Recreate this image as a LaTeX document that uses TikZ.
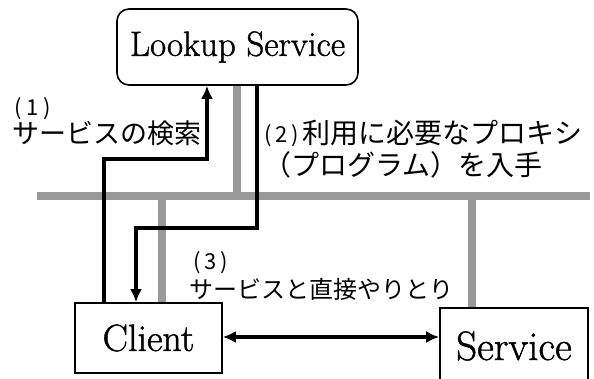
\documentclass[tikz,border=0pt]{standalone}
\usepackage{fontspec}
\newfontfamily\jp{Noto Sans CJK JP}
\newfontfamily\sch{Latin Modern Roman}[FakeBold=1.2]
\usetikzlibrary{arrows.meta}
\begin{document}
\begin{tikzpicture}[x=1pt,y=-1pt,
  box/.style={draw, line width=1.6pt, fill=white, inner sep=0pt},
  net/.style={draw=black!40, line width=7.5pt},
  arrowtip/.style={-{Latex[length=13pt,width=12pt]}},
  blk/.style={line width=3.6pt, arrowtip},
  jl/.style={inner sep=0pt, anchor=west},
  num/.style={font=\jp\fontsize{22}{22}\selectfont, inner sep=0pt, anchor=west}]
\useasboundingbox (0,0) rectangle (594,379);
% boxes
\node[box, rounded corners=12pt, minimum width=241pt, minimum height=76pt,
      font=\sch\fontsize{35}{35}\selectfont] (lookup) at (237.5,47) {Lookup Service};
\node[box, minimum width=147pt, minimum height=70pt,
      font=\sch\fontsize{38}{38}\selectfont] (client) at (148.5,338) {Client};
\node[box, minimum width=148pt, minimum height=76pt,
      font=\sch\fontsize{41}{41}\selectfont] (service) at (514,346) {Service};
% network
\coordinate (netL) at (37,196);
\coordinate (netR) at (590,196);
\coordinate (g1) at (237,196);
\coordinate (g2) at (162,196);
\coordinate (g3) at (472,196);
\draw[net] (netL) -- (netR);
\draw[net] (lookup.south -| g1) -- (g1);
\draw[net] (g2) -- (client.north -| g2);
\draw[net] (g3) -- (service.north -| g3);
% flows
\coordinate (a1) at (104,159);
\coordinate (a1b) at (207,159);
\draw[blk] (client.north -| a1) -- (a1) -- (a1b) -- (lookup.south -| a1b);
\coordinate (a2) at (257,228);
\coordinate (a2b) at (136,228);
\draw[blk] (lookup.south -| a2) -- (a2) -- (a2b) -- (client.north -| a2b);
\coordinate (d) at (0,337);
\draw[line width=3.4pt, {Latex[length=13pt,width=12pt]}-{Latex[length=13pt,width=12pt]}]
  (client.east |- d) -- (service.west |- d);
% labels
\node[num] (t1n) at (14,109) {(\kern5pt1\kern5pt)};
\node[jl, font=\jp\fontsize{27}{27}\selectfont] (t1) at (12,133) {サービスの検索};
\node[num] (t2n) at (264,136) {(\kern4pt2\kern4pt)};
\node[jl, font=\jp\fontsize{28}{28}\selectfont] (t2) at (302,133) {利用に必要なプロキシ};
\node[jl, font=\jp\fontsize{28}{28}\selectfont] (t2b) at (263,165) {（プログラム）を入手};
\node[num] (t3n) at (193,263) {(\kern4pt3\kern4pt)};
\node[jl, font=\jp\fontsize{24}{24}\selectfont] (t3) at (189,289) {サービスと直接やりとり};
\end{tikzpicture}
\end{document}
